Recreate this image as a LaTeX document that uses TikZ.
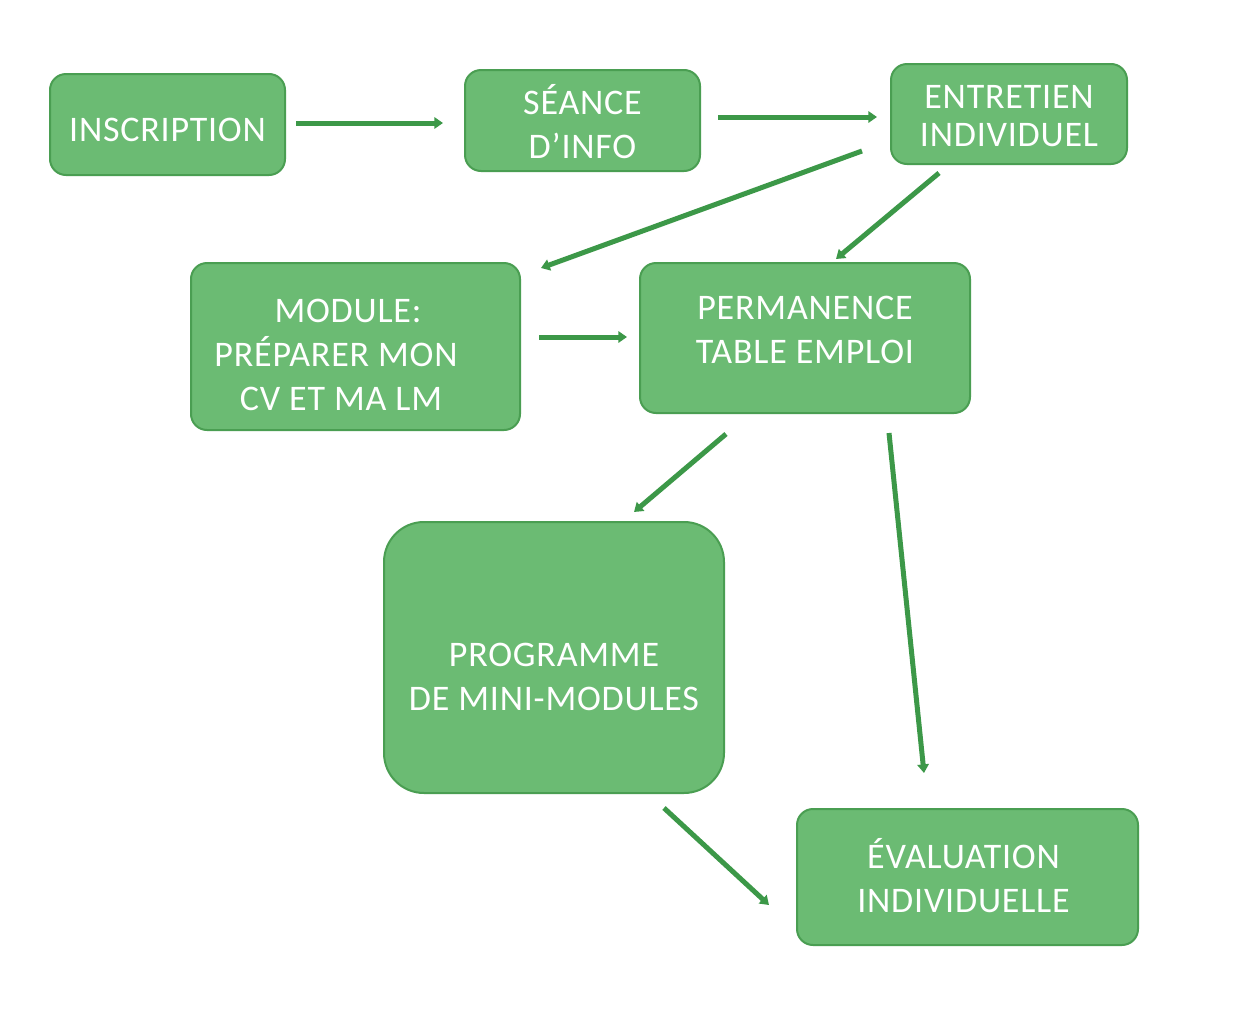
\documentclass[tikz,border=0pt]{standalone}
\usepackage{fontspec}
\setmainfont{Carlito}[LetterSpace=2.2]
\usetikzlibrary{arrows.meta}
\definecolor{boxfill}{HTML}{6BBB73}
\definecolor{boxline}{HTML}{4A9E52}
\definecolor{arrowc}{HTML}{3C9848}
\newcommand\bt[2]{\raisebox{#1}[\height][\depth]{\begin{tabular}{@{}c@{}}#2\end{tabular}}}
\begin{document}
\begin{tikzpicture}[x=0.75pt,y=-0.75pt,
  box/.style={rectangle, rounded corners=12pt, fill=boxfill, draw=boxline, line width=1.5pt,
    text=white, font=\fontsize{27}{33}\selectfont, inner sep=0pt},
  conn/.style={draw=arrowc, line width=3.75pt, -{Triangle[length=6.5pt,width=8.5pt]}}]
\useasboundingbox (0,0) rectangle (1233,1018);
\fill[white] (0,0) rectangle (1233,1018);

\node[box, minimum width=176.25pt, minimum height=75.75pt] (ins) at (167.5,124.5) {\bt{-6.4pt}{INSCRIPTION}};
\node[box, minimum width=176.25pt, minimum height=75.75pt] (sea) at (582.5,120.5) {\bt{-5.6pt}{SÉANCE\\D’INFO}};
\node[box, minimum width=177pt, minimum height=75pt] (ent) at (1009,114) {\bt{-3.75pt}{ENTRETIEN\\[-4.5pt]INDIVIDUEL}};
\node[box, minimum width=246.75pt, minimum height=125.25pt] (mod) at (355.5,346.5) {\bt{-8.5pt}{MODULE:\kern11.25pt\\PRÉPARER MON\kern29.25pt\\CV ET MA LM\kern21.75pt}};
\node[box, minimum width=247.5pt, minimum height=112.5pt] (per) at (805,338) {\bt{3.75pt}{PERMANENCE\\TABLE EMPLOI}};
\node[box, rounded corners=30pt, minimum width=255pt, minimum height=203.25pt] (pro) at (554,657.5) {\bt{-16.9pt}{PROGRAMME\\DE MINI-MODULES}};
\node[box, minimum width=255.75pt, minimum height=102pt] (eva) at (967.5,877) {\bt{-3.4pt}{ÉVALUATION\kern6pt\\INDIVIDUELLE\kern6pt}};

\coordinate (a1) at (296,123); \coordinate (a2) at (443,123);
\coordinate (b1) at (718,117); \coordinate (b2) at (877,117);
\coordinate (c1) at (862,151); \coordinate (c2) at (541,268);
\coordinate (d1) at (939,173); \coordinate (d2) at (836,259);
\coordinate (e1) at (539,337); \coordinate (e2) at (627,337);
\coordinate (f1) at (726,434); \coordinate (f2) at (634,512);
\coordinate (g1) at (889,433); \coordinate (g2) at (924,773);
\coordinate (h1) at (664,808); \coordinate (h2) at (769,905);

\draw[conn] (a1) -- (a2);
\draw[conn] (b1) -- (b2);
\draw[conn] (c1) -- (c2);
\draw[conn] (d1) -- (d2);
\draw[conn] (e1) -- (e2);
\draw[conn] (f1) -- (f2);
\draw[conn] (g1) -- (g2);
\draw[conn] (h1) -- (h2);
\end{tikzpicture}
\end{document}
